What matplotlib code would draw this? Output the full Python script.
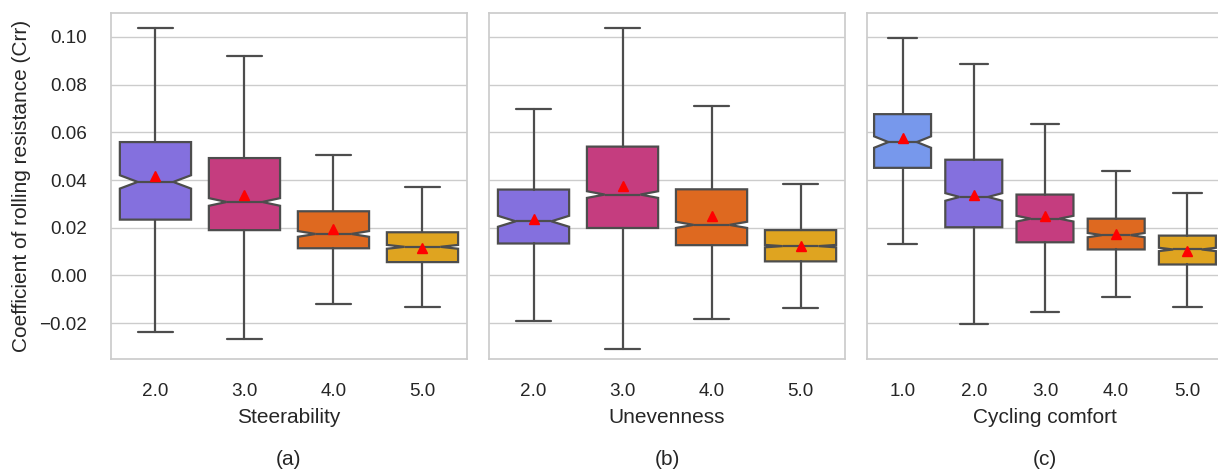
import matplotlib
matplotlib.use("Agg")
import matplotlib.pyplot as plt
import seaborn as sns

sns.set_theme(style="whitegrid")
plt.rcParams["font.family"] = ["Liberation Sans", "DejaVu Sans"]

# colours per rating level (IBM colour-blind palette)
level_colors = {"1.0": "#648FFF", "2.0": "#785EF0", "3.0": "#DC267F",
                "4.0": "#FE6100", "5.0": "#FFB000"}

# (a) Steerability
steer_levels = ["2.0", "3.0", "4.0", "5.0"]
steer_whislo = [-0.0237, -0.0265, -0.0121, -0.0131]
steer_q1 = [0.0234, 0.0190, 0.0114, 0.0056]
steer_med = [0.0392, 0.0308, 0.0174, 0.0120]
steer_q3 = [0.0559, 0.0492, 0.0269, 0.0181]
steer_whishi = [0.1038, 0.0918, 0.0506, 0.0369]
steer_mean = [0.0415, 0.0339, 0.0195, 0.0116]
steer_cilo = [0.0364, 0.0292, 0.0162, 0.0112]
steer_cihi = [0.0420, 0.0324, 0.0186, 0.0128]

# (b) Unevenness
uneven_levels = ["2.0", "3.0", "4.0", "5.0"]
uneven_whislo = [-0.0191, -0.0307, -0.0184, -0.0135]
uneven_q1 = [0.0134, 0.0199, 0.0127, 0.0059]
uneven_med = [0.0227, 0.0339, 0.0212, 0.0123]
uneven_q3 = [0.0360, 0.0540, 0.0361, 0.0190]
uneven_whishi = [0.0696, 0.1038, 0.0710, 0.0385]
uneven_mean = [0.0238, 0.0377, 0.0248, 0.0123]
uneven_cilo = [0.0204, 0.0325, 0.0199, 0.0118]
uneven_cihi = [0.0250, 0.0353, 0.0225, 0.0128]

# (c) Cycling comfort
comfort_levels = ["1.0", "2.0", "3.0", "4.0", "5.0"]
comfort_whislo = [0.0133, -0.0205, -0.0152, -0.0089, -0.0134]
comfort_q1 = [0.0451, 0.0202, 0.0139, 0.0109, 0.0046]
comfort_med = [0.0559, 0.0329, 0.0238, 0.0169, 0.0109]
comfort_q3 = [0.0676, 0.0485, 0.0339, 0.0238, 0.0167]
comfort_whishi = [0.0994, 0.0886, 0.0633, 0.0436, 0.0347]
comfort_mean = [0.0576, 0.0339, 0.0251, 0.0174, 0.0102]
comfort_cilo = [0.0535, 0.0313, 0.0226, 0.0160, 0.0102]
comfort_cihi = [0.0583, 0.0345, 0.0250, 0.0178, 0.0116]

panels = [
    ("Steerability", "(a)", steer_levels, steer_whislo, steer_q1, steer_med,
     steer_q3, steer_whishi, steer_mean, steer_cilo, steer_cihi),
    ("Unevenness", "(b)", uneven_levels, uneven_whislo, uneven_q1, uneven_med,
     uneven_q3, uneven_whishi, uneven_mean, uneven_cilo, uneven_cihi),
    ("Cycling comfort", "(c)", comfort_levels, comfort_whislo, comfort_q1,
     comfort_med, comfort_q3, comfort_whishi, comfort_mean, comfort_cilo,
     comfort_cihi),
]

fig = plt.figure(figsize=(12.18, 4.7), dpi=100)
lefts = [0.0911, 0.4015, 0.7118]
line_col = "#4d4d4d"

for i, (xlabel, caption, levels, wlo, q1, med, q3, whi, mean, cilo, cihi) in enumerate(panels):
    ax = fig.add_axes([lefts[i], 0.2362, 0.2923, 0.7362])
    stats = []
    for j in range(len(levels)):
        stats.append({"whislo": wlo[j], "q1": q1[j], "med": med[j], "q3": q3[j],
                      "whishi": whi[j], "mean": mean[j], "cilo": cilo[j],
                      "cihi": cihi[j], "fliers": []})
    bp = ax.bxp(stats, positions=list(range(len(levels))), widths=0.8,
                shownotches=True, showmeans=True, patch_artist=True,
                showfliers=False,
                boxprops=dict(edgecolor=line_col, linewidth=1.6),
                whiskerprops=dict(color=line_col, linewidth=1.6),
                capprops=dict(color=line_col, linewidth=1.6),
                medianprops=dict(color=line_col, linewidth=1.6),
                meanprops=dict(marker="^", markerfacecolor="red",
                               markeredgecolor="red", markersize=7))
    for patch, lev in zip(bp["boxes"], levels):
        patch.set_facecolor(sns.desaturate(level_colors[lev], 0.75))
    ax.set_xlim(-0.5, len(levels) - 0.5)
    ax.set_ylim(-0.035, 0.110)
    ax.set_yticks([-0.02, 0.0, 0.02, 0.04, 0.06, 0.08, 0.10])
    ax.set_xticks(list(range(len(levels))))
    ax.set_xticklabels(levels)
    ax.xaxis.grid(False)
    ax.tick_params(axis="both", labelsize=13.6, length=0)
    ax.tick_params(axis="x", pad=17)
    ax.tick_params(axis="y", pad=17)
    ax.set_xlabel(xlabel, fontsize=15, labelpad=6)
    if i == 0:
        ax.set_ylabel("Coefficient of rolling resistance (Crr)", fontsize=15, labelpad=6)
        ax.set_yticklabels(["−0.02", "0.00", "0.02", "0.04", "0.06", "0.08", "0.10"])
    else:
        ax.tick_params(axis="y", labelleft=False)
    for s in ax.spines.values():
        s.set_edgecolor("#cccccc")
        s.set_linewidth(1.25)
    fig.text(lefts[i] + 0.2923 / 2, 0.0213, caption, ha="center", va="center",
             fontsize=15)

fig.savefig("out.png", dpi=100)
